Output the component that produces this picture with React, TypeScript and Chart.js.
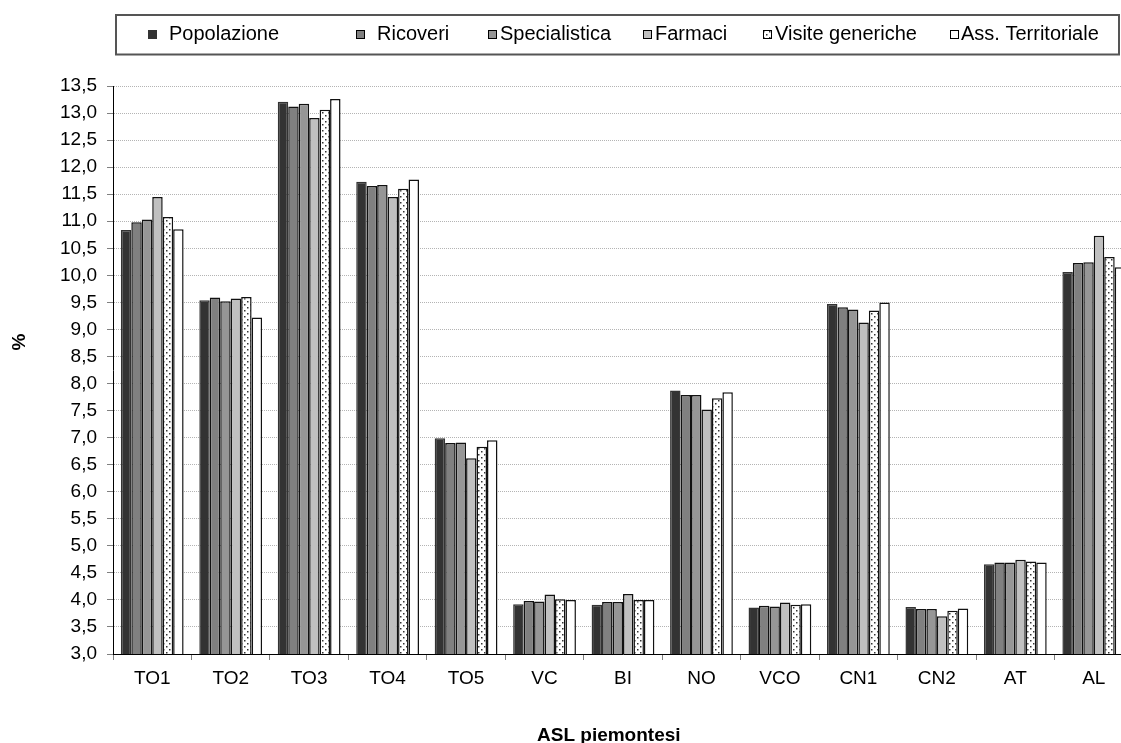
import React, { useEffect, useRef } from "react";
import { Chart, registerables } from "chart.js";

Chart.register(...registerables);

// ---------- DATA ----------
const CATEGORIES = ["TO1", "TO2", "TO3", "TO4", "TO5", "VC", "BI", "NO", "VCO", "CN1", "CN2", "AT", "AL"];
const SERIES_NAMES = ["Popolazione", "Ricoveri", "Specialistica", "Farmaci", "Visite generiche", "Ass. Territoriale"];
const POPOLAZIONE = [10.84, 9.54, 13.21, 11.73, 6.99, 3.92, 3.91, 7.87, 3.86, 9.47, 3.87, 4.66, 10.06];
const RICOVERI = [10.98, 9.59, 13.12, 11.65, 6.9, 3.98, 3.96, 7.79, 3.89, 9.41, 3.83, 4.69, 10.23];
const SPECIALISTICA = [11.03, 9.52, 13.17, 11.67, 6.91, 3.97, 3.96, 7.79, 3.88, 9.37, 3.83, 4.69, 10.24];
const FARMACI = [11.45, 9.57, 12.91, 11.45, 6.62, 4.1, 4.11, 7.52, 3.95, 9.13, 3.7, 4.74, 10.73];
const VISITE_GENERICHE = [11.08, 9.6, 13.06, 11.6, 6.83, 4.01, 4.0, 7.73, 3.91, 9.35, 3.8, 4.71, 10.34];
const ASS_TERRITORIALE = [10.85, 9.22, 13.26, 11.77, 6.95, 4.0, 4.0, 7.84, 3.92, 9.5, 3.84, 4.69, 10.15];
const Y_MIN = 3;
const Y_MAX = 13.5;
const Y_STEP = 0.5;
const X_TITLE = "ASL piemontesi";
const Y_TITLE = "%";

// ---------- STYLE / LAYOUT ----------
const FONT = '"Liberation Sans", Arial, sans-serif';
const CANVAS_W = 1140;
const CANVAS_H = 746;
const PLOT_LEFT = 113;
const PLOT_TOP = 86;
const PLOT_BOTTOM = 654;
const PLOT_RIGHT = 1133;
const LEGEND_TEXT_X = [169, 377, 500, 655, 775, 961];
const LEGEND_MARK_X = [148, 356, 488, 643, 763, 950];

function makeDots(): CanvasPattern | string {
  const c = document.createElement("canvas");
  c.width = 6;
  c.height = 6;
  const g = c.getContext("2d");
  if (!g) return "#ffffff";
  g.fillStyle = "#ffffff";
  g.fillRect(0, 0, 6, 6);
  g.fillStyle = "#333333";
  g.fillRect(1, 1, 1.5, 1.5);
  g.fillRect(4, 4, 1.5, 1.5);
  const p = g.createPattern(c, "repeat");
  return p || "#ffffff";
}

const overlayPlugin = {
  id: "overlay",
  afterDraw(chart: any) {
    const ctx = chart.ctx as CanvasRenderingContext2D;
    ctx.save();
    // legend box
    ctx.strokeStyle = "#555555";
    ctx.lineWidth = 2;
    ctx.strokeRect(116, 15, 1003, 39.5);
    ctx.font = `20px ${FONT}`;
    ctx.textBaseline = "middle";
    ctx.textAlign = "left";
    chart.data.datasets.forEach((ds: any, i: number) => {
      const mx = LEGEND_MARK_X[i];
      ctx.fillStyle = ds.backgroundColor;
      ctx.fillRect(mx, 30, 9, 9);
      if (i > 0) {
        ctx.strokeStyle = "#000000";
        ctx.lineWidth = 1;
        ctx.strokeRect(mx + 0.5, 30.5, 8, 8);
      }
      ctx.fillStyle = "#000000";
      ctx.fillText(ds.label, LEGEND_TEXT_X[i], 34);
    });
    // axis titles
    ctx.font = `bold 19px ${FONT}`;
    ctx.fillStyle = "#000000";
    ctx.textAlign = "left";
    ctx.textBaseline = "alphabetic";
    ctx.fillText(X_TITLE, 537, 741);
    ctx.translate(20, 342);
    ctx.rotate(-Math.PI / 2);
    ctx.textAlign = "center";
    ctx.textBaseline = "middle";
    ctx.fillText(Y_TITLE, 0, 0);
    ctx.restore();
  },
};

export default function App() {
  const ref = useRef<HTMLCanvasElement | null>(null);

  useEffect(() => {
    if (!ref.current) return;
    const dots = makeDots();
    const fills: any[] = ["#333333", "#808080", "#969696", "#c0c0c0", dots, "#ffffff"];
    const borders = ["#333333", "#111111", "#111111", "#111111", "#111111", "#111111"];
    const values = [POPOLAZIONE, RICOVERI, SPECIALISTICA, FARMACI, VISITE_GENERICHE, ASS_TERRITORIALE];
    const chart = new Chart(ref.current, {
      type: "bar",
      data: {
        labels: CATEGORIES,
        datasets: SERIES_NAMES.map((name, i) => ({
          label: name,
          data: values[i],
          backgroundColor: fills[i],
          borderColor: borders[i],
          borderWidth: 1.5,
          categoryPercentage: 0.8,
          barPercentage: 1.0,
        })),
      },
      options: {
        responsive: false,
        animation: false,
        devicePixelRatio: 1,
        layout: { padding: { top: PLOT_TOP, right: CANVAS_W - PLOT_RIGHT, bottom: 0, left: 0 } },
        plugins: {
          legend: { display: false },
          tooltip: { enabled: false },
          title: { display: false },
        },
        scales: {
          x: {
            type: "category",
            offset: true,
            afterFit: (s: any) => {
              s.height = CANVAS_H - PLOT_BOTTOM;
            },
            grid: {
              display: true,
              offset: true,
              drawOnChartArea: false,
              drawTicks: true,
              tickLength: 6,
              color: "#808080",
            },
            border: { display: true, color: "#000000", width: 1 },
            ticks: {
              color: "#000000",
              padding: 7,
              maxRotation: 0,
              autoSkip: false,
              font: { family: FONT, size: 19 },
            },
          },
          y: {
            min: Y_MIN,
            max: Y_MAX,
            afterFit: (s: any) => {
              s.width = PLOT_LEFT;
            },
            grid: {
              color: "#b4b4b4",
              drawTicks: true,
              tickLength: 6,
              tickColor: "#808080",
              tickBorderDash: [],
            },
            border: { display: true, color: "#000000", width: 1, dash: [1, 1] },
            ticks: {
              stepSize: Y_STEP,
              color: "#000000",
              padding: 10,
              font: { family: FONT, size: 19 },
              callback: (v: any) => Number(v).toFixed(1).replace(".", ","),
            },
          },
        },
      },
      plugins: [overlayPlugin],
    });
    return () => chart.destroy();
  }, []);

  return (
    <div style={{ width: 1121, height: 743, overflow: "hidden", position: "relative", background: "#ffffff" }}>
      <style>{"body{margin:0;}"}</style>
      <canvas ref={ref} width={CANVAS_W} height={CANVAS_H} style={{ display: "block", width: CANVAS_W, height: CANVAS_H }} />
    </div>
  );
}
